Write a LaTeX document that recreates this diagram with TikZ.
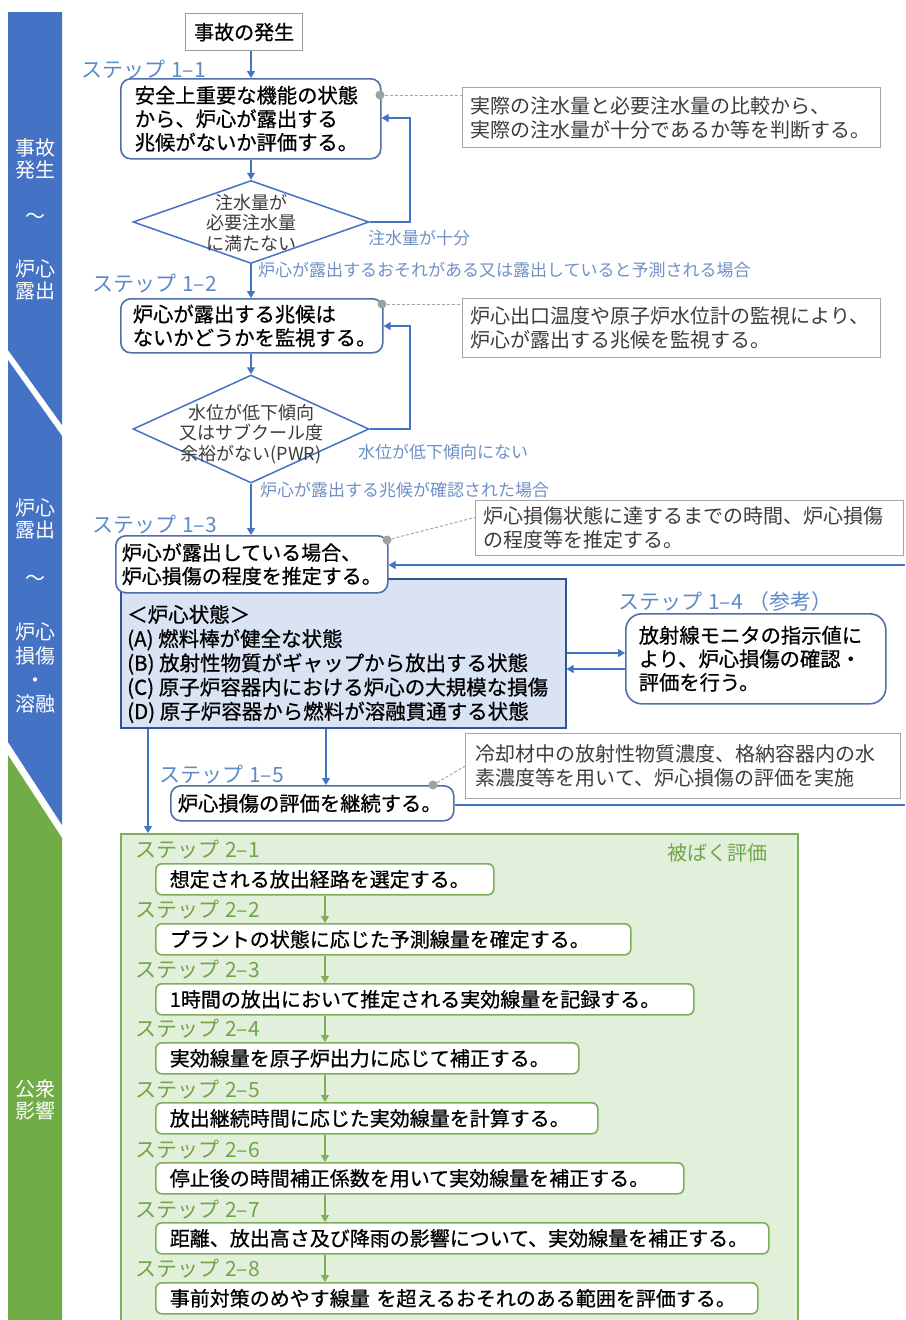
\documentclass[tikz,border=0pt]{standalone}
\usepackage{fontspec}
\setmainfont{Noto Sans CJK JP}
\newfontfamily\jpbold[FakeBold=0.7]{Noto Sans CJK JP}
\usetikzlibrary{shapes.geometric,arrows.meta,calc}
\definecolor{bandblue}{HTML}{4472C4}
\definecolor{bandgreen}{HTML}{70AD47}
\definecolor{boxblue}{HTML}{4F6FA6}
\definecolor{arrowblue}{HTML}{4472C4}
\definecolor{lblblue}{HTML}{5B8AC8}
\definecolor{edgeblue}{HTML}{6F8FC4}
\definecolor{statefill}{HTML}{DAE3F3}
\definecolor{stateline}{HTML}{2F5597}
\definecolor{greenfill}{HTML}{E2EFDA}
\definecolor{greenline}{HTML}{7FAE5B}
\definecolor{greentext}{HTML}{6FA64A}
\definecolor{notegray}{HTML}{A6A6A6}
\definecolor{notetext}{HTML}{3C3C3C}
\definecolor{dotgray}{HTML}{A0A0A0}
\newcommand{\myfs}[2]{\fontsize{#1}{#2}\selectfont}
\newcommand{\stp}[1]{ステップ\hspace{6pt}#1}
\begin{document}
\begin{tikzpicture}[x=1pt,y=-1pt,
  boxtxt/.style={font=\jpbold\myfs{20.3}{23.5}, align=left, text=black},
  mainbox/.style={boxtxt, draw=boxblue, line width=1.6pt, fill=white, rounded corners=10pt, anchor=north west, inner ysep=0pt},
  notebox/.style={font=\myfs{20}{24}, text=notetext, align=left, draw=notegray, line width=1.4pt, fill=white, anchor=north west, inner xsep=8pt, inner ysep=0pt},
  steplbl/.style={font=\myfs{21}{24}, text=lblblue, anchor=west, inner sep=0pt},
  gsteplbl/.style={steplbl, text=greentext},
  edgelbl/.style={font=\myfs{17}{20}, text=edgeblue, anchor=west, inner sep=0pt},
  dec/.style={diamond, draw=arrowblue, line width=1.5pt, fill=white, inner sep=0pt},
  dectxt/.style={font=\myfs{18}{20.5}, align=center, text=notetext, inner sep=0pt},
  arr/.style={draw=arrowblue, line width=1.3pt, -{Triangle[width=8pt,length=7pt]}},
  garr/.style={draw=greenline, line width=1.3pt, -{Triangle[width=8pt,length=7pt]}},
  gbox/.style={boxtxt, font=\jpbold\myfs{20}{23}, draw=greenline, line width=1.6pt, fill=white, rounded corners=6pt, anchor=north west, inner xsep=14pt, inner ysep=0pt, minimum height=31pt},
  dot/.style={circle, fill=dotgray, inner sep=0pt, minimum size=9pt},
  dashln/.style={draw=notegray, line width=1pt, dash pattern=on 3pt off 2pt},
  bandtxt/.style={font=\myfs{20}{21.5}, text=white, align=center, inner sep=0pt},
]
\useasboundingbox (0,0) rectangle (905,1320);
\begin{scope}
\clip (0,0) rectangle (905,1320);
% side bands
\fill[bandblue] (8,12) -- (62,12) -- (62,425) -- (8,350) -- cycle;
\fill[bandblue] (8,360) -- (62,436) -- (62,825) -- (8,742) -- cycle;
\fill[bandgreen] (8,755) -- (62,838) -- (62,1320) -- (8,1320) -- cycle;
\node[bandtxt] (bt1) at (35,159) {事故\\発生};
\node[bandtxt] (bt2) at (35,218) {〜};
\node[bandtxt] (bt3) at (35,280) {炉心\\露出};
\node[bandtxt] (bt4) at (35,519) {炉心\\露出};
\node[bandtxt] (bt5) at (35,580) {〜};
\node[bandtxt, font=\myfs{20}{24}] (bt6) at (35,668) {炉心\\損傷\\・\\溶融};
\node[bandtxt] (bt7) at (35,1100) {公衆\\影響};

\coordinate (cx) at (251,0);

% start
\node[draw=gray!80, line width=1.3pt, fill=white, font=\jpbold\myfs{20}{22}, minimum width=117pt, minimum height=37pt, anchor=north west, inner sep=0pt] (start) at (185,13) {事故の発生};

% step 1-1
\node[steplbl] (l11) at (81,70) {\stp{1–1}};
\node[mainbox, inner xsep=14pt, text width=232pt, minimum height=80pt] (s11) at (120,78) {安全上重要な機能の状態\\から、炉心が露出する\\兆候がないか評価する。};
\node[notebox, text width=402pt, minimum height=60pt] (n1) at (462,87) {実際の注水量と必要注水量の比較から、\\実際の注水量が十分であるか等を判断する。};
\node[dot] (d11) at (380,95) {};
\draw[dashln] (d11) -- (n1.west |- d11);
\draw[arr] (start.south -| cx) -- (s11.north -| cx);

\node[dec, minimum width=236pt, minimum height=83pt] (dm1) at (251,222) {};
\node[dectxt] (dm1t) at (251,223) {注水量が\\必要注水量\\に満たない};
\draw[arr] (s11.south -| cx) -- (dm1.north);
\coordinate (lp1) at (410,222);
\coordinate (lp1t) at (410,118);
\draw[arr, line width=1.2pt] (dm1.east) -- (lp1) -- (lp1t) -- (s11.east |- lp1t);
\node[edgelbl] (e1) at (368,238) {注水量が十分};
\node[edgelbl] (e2) at (258,270) {炉心が露出するおそれがある又は露出していると予測される場合};

% step 1-2
\node[steplbl] (l12) at (92,284) {\stp{1–2}};
\node[mainbox, inner xsep=12pt, text width=238pt, minimum height=54pt] (s12) at (120,298) {炉心が露出する兆候は\\ないかどうかを監視する。};
\node[notebox, text width=402pt, minimum height=59pt] (n2) at (462,298) {炉心出口温度や原子炉水位計の監視により、\\炉心が露出する兆候を監視する。};
\node[dot] (d12) at (382,304) {};
\draw[dashln] (d12) -- (n2.west |- d12);
\draw[arr] (dm1.south) -- (s12.north -| cx);

\node[dec, minimum width=236pt, minimum height=108pt] (dm2) at (251,429) {};
\node[dectxt] (dm2t) at (251,434) {水位が低下傾向\\又はサブクール度\\余裕がない(PWR)};
\draw[arr] (s12.south -| cx) -- (dm2.north);
\coordinate (lp2) at (410,429);
\coordinate (lp2t) at (410,326);
\draw[arr, line width=1.2pt] (dm2.east) -- (lp2) -- (lp2t) -- (s12.east |- lp2t);
\node[edgelbl] (e3) at (358,452) {水位が低下傾向にない};
\node[edgelbl] (e4) at (260,490) {炉心が露出する兆候が確認された場合};

% step 1-3
\node[steplbl] (l13) at (92,525) {\stp{1–3}};
\node[draw=stateline, line width=1.6pt, fill=statefill, minimum width=445pt, minimum height=149pt, anchor=north west] (state) at (120,578) {};
\node[boxtxt, font=\jpbold\myfs{20.5}{24.2}, anchor=west, inner sep=0pt] (statetxt) at (127,664) {＜炉心状態＞\\(A) 燃料棒が健全な状態\\(B) 放射性物質がギャップから放出する状態\\(C) 原子炉容器内における炉心の大規模な損傷\\(D) 原子炉容器から燃料が溶融貫通する状態};
\node[mainbox, font=\jpbold\myfs{20}{23.5}, inner xsep=6pt, text width=260pt, minimum height=57pt] (s13) at (115,535) {炉心が露出している場合、\\炉心損傷の程度を推定する。};
\draw[arr] (dm2.south) -- (s13.north -| cx);
\node[notebox, text width=412pt, minimum height=55pt] (n3) at (475,500) {炉心損傷状態に達するまでの時間、炉心損傷\\の程度等を推定する。};
\node[dot] (d13) at (387,540) {};
\draw[dashln] (d13) -- ($(n3.north west)!0.31!(n3.south west)$);
\coordinate (rin) at (905,565);
\draw[arr, line width=1.2pt] (rin) -- (s13.east |- rin);

% step 1-4
\node[steplbl] (l14) at (618,602) {\stp{1–4}\hspace{6pt}（参考）};
\node[mainbox, rounded corners=16pt, inner xsep=13pt, text width=234pt, minimum height=90pt] (s14) at (625,613) {放射線モニタの指示値に\\より、炉心損傷の確認・\\評価を行う。};
\coordinate (a1) at (0,653);
\coordinate (a2) at (0,669);
\draw[arr, line width=1.2pt] (state.east |- a1) -- (s14.west |- a1);
\draw[arr, line width=1.2pt] (s14.west |- a2) -- (state.east |- a2);

% step 1-5
\node[steplbl] (l15) at (159,775) {\stp{1–5}};
\node[mainbox, inner xsep=7pt, text width=269pt, minimum height=35pt] (s15) at (170,785) {炉心損傷の評価を継続する。};
\node[notebox, inner xsep=10pt, text width=415pt, minimum height=65pt] (n4) at (465,733) {冷却材中の放射性物質濃度、格納容器内の水\\素濃度等を用いて、炉心損傷の評価を実施};
\node[dot] (d15) at (433,785) {};
\draw[dashln] (d15) -- (n4.west);
\coordinate (rout) at (905,805);
\draw[draw=arrowblue, line width=1.2pt] (s15.east |- rout) -- (rout);

% green area
\node[draw=greenline, line width=1.8pt, fill=greenfill, minimum width=677pt, minimum height=520pt, anchor=north west] (green) at (120,833) {};
\coordinate (ax1) at (148,0);
\coordinate (ax2) at (326,0);
\draw[arr] (state.south -| ax1) -- (green.north -| ax1);
\draw[arr] (state.south -| ax2) -- (s15.north -| ax2);
\node[font=\myfs{20}{22}, text=greentext, anchor=west, inner sep=0pt] (glbl) at (667,853) {被ばく評価};

\node[gsteplbl] (l21) at (135,850) {\stp{2–1}};
\node[gbox, text width=310pt] (b21) at (155,863) {想定される放出経路を選定する。};
\node[gsteplbl] (l22) at (135,910) {\stp{2–2}};
\node[gbox, text width=447pt] (b22) at (155,923) {プラントの状態に応じた予測線量を確定する。};
\node[gsteplbl] (l23) at (135,970) {\stp{2–3}};
\node[gbox, text width=510pt] (b23) at (155,983) {1時間の放出において推定される実効線量を記録する。};
\node[gsteplbl] (l24) at (135,1029) {\stp{2–4}};
\node[gbox, text width=395pt] (b24) at (155,1042) {実効線量を原子炉出力に応じて補正する。};
\node[gsteplbl] (l25) at (135,1090) {\stp{2–5}};
\node[gbox, text width=414pt] (b25) at (155,1102) {放出継続時間に応じた実効線量を計算する。};
\node[gsteplbl] (l26) at (135,1150) {\stp{2–6}};
\node[gbox, text width=500pt] (b26) at (155,1162) {停止後の時間補正係数を用いて実効線量を補正する。};
\node[gsteplbl] (l27) at (135,1210) {\stp{2–7}};
\node[gbox, text width=585pt] (b27) at (155,1222) {距離、放出高さ及び降雨の影響について、実効線量を補正する。};
\node[gsteplbl] (l28) at (135,1269) {\stp{2–8}};
\node[gbox, text width=574pt] (b28) at (155,1282) {事前対策のめやす線量 を超えるおそれのある範囲を評価する。};
\coordinate (gx) at (325,0);
\draw[garr] (b21.south -| gx) -- (b22.north -| gx);
\draw[garr] (b22.south -| gx) -- (b23.north -| gx);
\draw[garr] (b23.south -| gx) -- (b24.north -| gx);
\draw[garr] (b24.south -| gx) -- (b25.north -| gx);
\draw[garr] (b25.south -| gx) -- (b26.north -| gx);
\draw[garr] (b26.south -| gx) -- (b27.north -| gx);
\draw[garr] (b27.south -| gx) -- (b28.north -| gx);
\end{scope}
\end{tikzpicture}
\end{document}
